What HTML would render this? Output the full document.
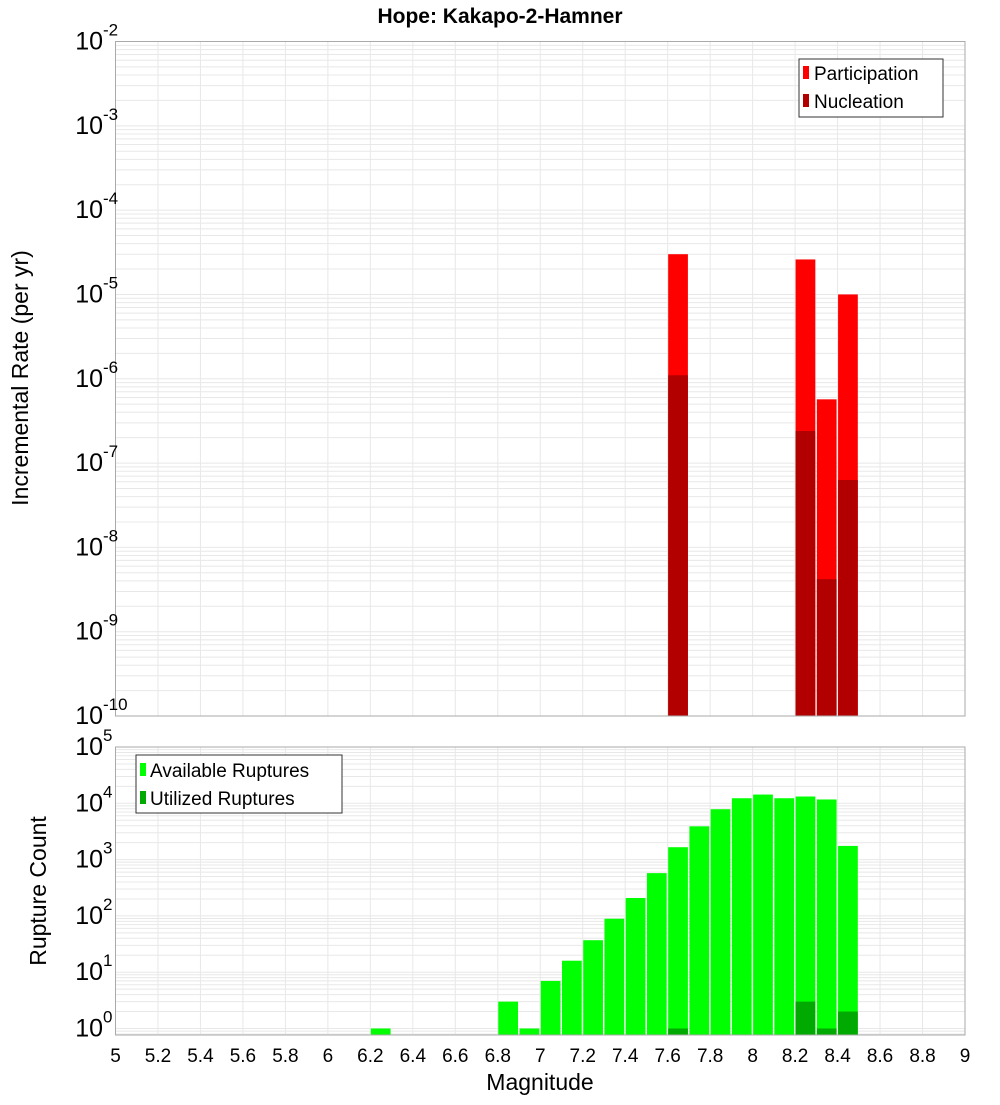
<!DOCTYPE html>
<html><head><meta charset="utf-8"><style>
body{margin:0;background:#fff}
svg{font-family:"Liberation Sans","DejaVu Sans",sans-serif}
</style></head><body>
<svg id="chart" width="1000" height="1100" xmlns="http://www.w3.org/2000/svg">
<text x="500" y="23" text-anchor="middle" font-size="21" font-weight="bold">Hope: Kakapo-2-Hamner</text>
<g id="top"></g>
<g id="bot"></g>
<text transform="translate(28,378) rotate(-90)" text-anchor="middle" font-size="23">Incremental Rate (per yr)</text>
<text transform="translate(46,891) rotate(-90)" text-anchor="middle" font-size="23">Rupture Count</text>
<text x="540" y="1090" text-anchor="middle" font-size="23">Magnitude</text>
<g>
<rect x="799" y="59" width="144" height="58" fill="#fff" stroke="#333"/>
<rect x="803" y="66" width="6" height="13" fill="#ff0000"/><text x="814" y="80" font-size="19">Participation</text>
<rect x="803" y="94" width="6" height="13" fill="#b20000"/><text x="814" y="108" font-size="19">Nucleation</text>
</g>
<g>
<rect x="136" y="755" width="206" height="58" fill="#fff" stroke="#333"/>
<rect x="140" y="763" width="6" height="13" fill="#00ff00"/><text x="150" y="777" font-size="19">Available Ruptures</text>
<rect x="140" y="791" width="6" height="13" fill="#00aa00"/><text x="150" y="805" font-size="19">Utilized Ruptures</text>
</g>
</svg>
<script>
const mags = [7.6, 8.2, 8.3, 8.4];
const participation = [3.0e-5, 2.6e-5, 5.7e-7, 1.0e-5];
const nucleation = [1.1e-6, 2.4e-7, 4.2e-9, 6.3e-8];
const cMags = [6.2,6.8,6.9,7.0,7.1,7.2,7.3,7.4,7.5,7.6,7.7,7.8,7.9,8.0,8.1,8.2,8.3,8.4];
const available = [1,3,1,7,16,37,89,208,575,1660,3900,7850,12300,14300,12300,13200,11700,1750];
const utilMags = [7.6, 8.2, 8.3, 8.4];
const utilized = [1, 3, 1, 2];
const xTicks = [5,5.2,5.4,5.6,5.8,6,6.2,6.4,6.6,6.8,7,7.2,7.4,7.6,7.8,8,8.2,8.4,8.6,8.8,9];
const topExps = [-2,-3,-4,-5,-6,-7,-8,-9,-10];
const botExps = [5,4,3,2,1,0];

const NS="http://www.w3.org/2000/svg";
const X0=115.5, X1=965;
const x = m => X0 + (m-5)/4*(X1-X0);
const T0=41.5, T1=716;
const yTop = v => T0 + (-2 - Math.log10(v))*(T1-T0)/8;
const B0=747, BD=56.3;
const yBot = v => B0 + (5 - Math.log10(v))*BD;
const B1=1035;
function el(tag, attrs, parent, text){const e=document.createElementNS(NS,tag);for(const k in attrs)e.setAttribute(k,attrs[k]);if(text!==undefined)e.textContent=text;parent.appendChild(e);return e;}
function panel(g, top, bottom, yf, lo, hi){
  el('rect',{x:X0,y:top,width:X1-X0,height:bottom-top,fill:'#fff'},g);
  for(let e=lo;e<hi;e++)for(let k=1;k<10;k++){const yy=yf(k*Math.pow(10,e));if(yy>=top&&yy<=bottom)el('line',{x1:X0,x2:X1,y1:yy,y2:yy,stroke:'#e8e8e8','stroke-width':1},g);}
  xTicks.forEach(t=>el('line',{x1:x(t),x2:x(t),y1:top,y2:bottom,stroke:'#e8e8e8','stroke-width':1},g));
}
function bar(g,m,v,yf,bottom,fill,name){
  const b=el('rect',{x:x(m)+0.5,y:yf(v),width:x(m+0.1)-x(m)-1.5,height:bottom-yf(v),fill:fill},g);
  
  
}
const gt=document.getElementById('top'), gb=document.getElementById('bot');
panel(gt,T0,T1,yTop,-10,-2);
mags.forEach((m,i)=>bar(gt,m,participation[i],yTop,T1,'#ff0000','participation-bar'));
mags.forEach((m,i)=>bar(gt,m,nucleation[i],yTop,T1,'#b20000','nucleation-bar'));
el('rect',{x:X0,y:T0,width:X1-X0,height:T1-T0,fill:'none',stroke:'#aaa'},gt);
topExps.forEach(e=>{const yy=yTop(Math.pow(10,e));const t=el('text',{x:103,y:yy+8,'text-anchor':'end','font-size':25},gt,'10');
  
  
  el('text',{x:103,y:yy-6,'font-size':17},gt,String(e));});
panel(gb,B0,B1,yBot,-1,5);
cMags.forEach((m,i)=>bar(gb,m,available[i],yBot,B1,'#00ff00','available-bar'));
utilMags.forEach((m,i)=>bar(gb,m,utilized[i],yBot,B1,'#00aa00','utilized-bar'));
el('rect',{x:X0,y:B0,width:X1-X0,height:B1-B0,fill:'none',stroke:'#aaa'},gb);
botExps.forEach(e=>{const yy=yBot(Math.pow(10,e));const t=el('text',{x:103,y:yy+8,'text-anchor':'end','font-size':25},gb,'10');
  
  
  el('text',{x:103,y:yy-6,'font-size':17},gb,String(e));});
xTicks.forEach(t=>{const tx=el('text',{x:x(t),y:1062,'text-anchor':'middle','font-size':19},gb,String(t));
  
  });
</script>
</body></html>
